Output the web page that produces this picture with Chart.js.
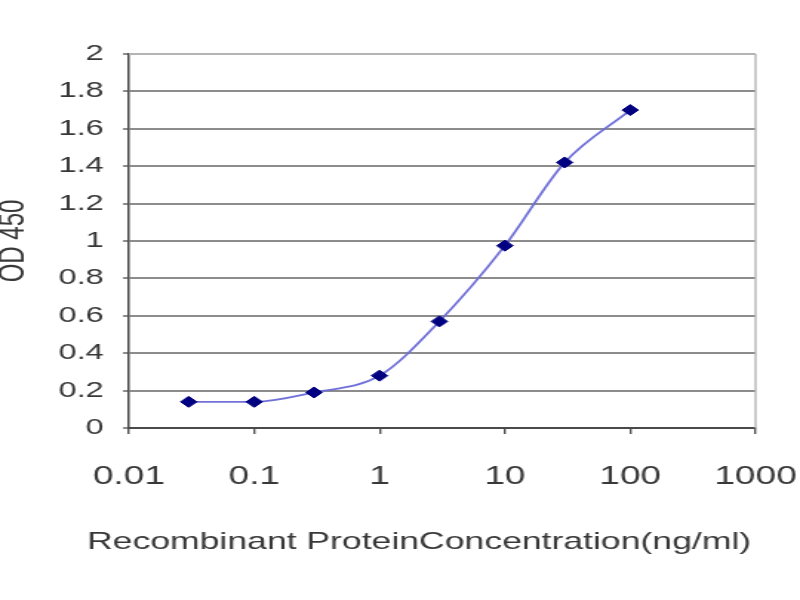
<!DOCTYPE html>
<html>
<head>
<meta charset="utf-8">
<script src="https://cdn.jsdelivr.net/npm/chart.js@4/dist/chart.umd.min.js"></script>
<style>
html,body{margin:0;padding:0;background:#fff;overflow:hidden;width:800px;height:600px;}
#wrap{width:540px;height:600px;transform:scaleX(1.48148);transform-origin:0 0;}
</style>
</head>
<body>
<div id="wrap"><canvas id="c" width="540" height="600"></canvas></div>
<script>
const concentrations = [0.03, 0.1, 0.3, 1, 3, 10, 30, 100];
const odValues = [0.14, 0.14, 0.19, 0.28, 0.57, 0.975, 1.42, 1.70];
const xTickValues = [0.01, 0.1, 1, 10, 100, 1000];
const xTickLabels = ["0.01", "0.1", "1", "10", "100", "1000"];
const yTickLabels = ["0", "0.2", "0.4", "0.6", "0.8", "1", "1.2", "1.4", "1.6", "1.8", "2"];
const xTitle = "Recombinant ProteinConcentration(ng/ml)";
const yTitle = "OD 450";

const frame = {
  id: 'frame',
  beforeDatasetsDraw(chart) {
    const a = chart.chartArea, ctx = chart.ctx;
    ctx.save();
    ctx.strokeStyle = '#b4b4b4';
    ctx.lineWidth = 2;
    ctx.beginPath();
    ctx.moveTo(a.left, a.top);
    ctx.lineTo(a.right, a.top);
    ctx.stroke();
    ctx.lineWidth = 1.4;
    ctx.beginPath();
    ctx.moveTo(a.right, a.top);
    ctx.lineTo(a.right, a.bottom);
    ctx.stroke();
    ctx.restore();
  }
};

const xTitlePlugin = {
  id: 'xTitlePlugin',
  afterDraw(chart) {
    const a = chart.chartArea, ctx = chart.ctx;
    ctx.save();
    ctx.font = '24px "Liberation Sans"';
    ctx.fillStyle = '#383838';
    ctx.textAlign = 'center';
    ctx.textBaseline = 'middle';
    ctx.fillText(xTitle, a.left + (a.right - a.left) * 0.463, 542);
    ctx.restore();
  }
};

new Chart(document.getElementById('c'), {
  type: 'line',
  data: {
    datasets: [{
      data: concentrations.map((x, i) => ({x: x, y: odValues[i]})),
      borderColor: '#7070d8',
      borderWidth: 1.8,
      cubicInterpolationMode: 'monotone',
      pointStyle: 'rectRot',
      pointRadius: 5.5,
      pointBackgroundColor: '#000080',
      pointBorderColor: '#000080',
      pointBorderWidth: 1,
      fill: false
    }]
  },
  options: {
    responsive: false,
    animation: false,
    devicePixelRatio: 1,
    layout: {padding: {left: 0, right: 30, top: 54, bottom: 40}},
    plugins: {legend: {display: false}, tooltip: {enabled: false}},
    scales: {
      x: {
        type: 'logarithmic',
        min: 0.01, max: 1000,
        afterBuildTicks: s => { s.ticks = xTickValues.map(v => ({value: v})); },
        afterFit: s => { s.height = 132; s.paddingLeft = 0; s.paddingRight = 0; },
        ticks: {
          callback: (v) => { const i = xTickValues.indexOf(v); return i >= 0 ? xTickLabels[i] : ''; },
          color: '#383838',
          font: {family: 'Liberation Sans', size: 25},
          padding: 28,
          maxRotation: 0, autoSkip: false
        },
        grid: {drawOnChartArea: false, tickLength: 6, color: '#505050', lineWidth: 1.4},
        border: {color: '#4a4a4a', width: 2}
      },
      y: {
        min: 0, max: 2,
        ticks: {
          stepSize: 0.2,
          callback: (v) => yTickLabels[Math.round(v * 5)],
          color: '#383838',
          font: {family: 'Liberation Sans', size: 22},
          padding: 13
        },
        afterFit: s => { s.width = 87; s.paddingTop = 0; s.paddingBottom = 0; },
        grid: {color: '#8c8c8c', lineWidth: 2, tickLength: 4},
        border: {color: '#4a4a4a', width: 1.5},
        title: {display: true, text: yTitle, color: '#383838',
          font: {family: 'Liberation Sans', size: 24, lineHeight: 0.75}, padding: {top: 0, bottom: 0}}
      }
    }
  },
  plugins: [frame, xTitlePlugin]
});
</script>
</body>
</html>
